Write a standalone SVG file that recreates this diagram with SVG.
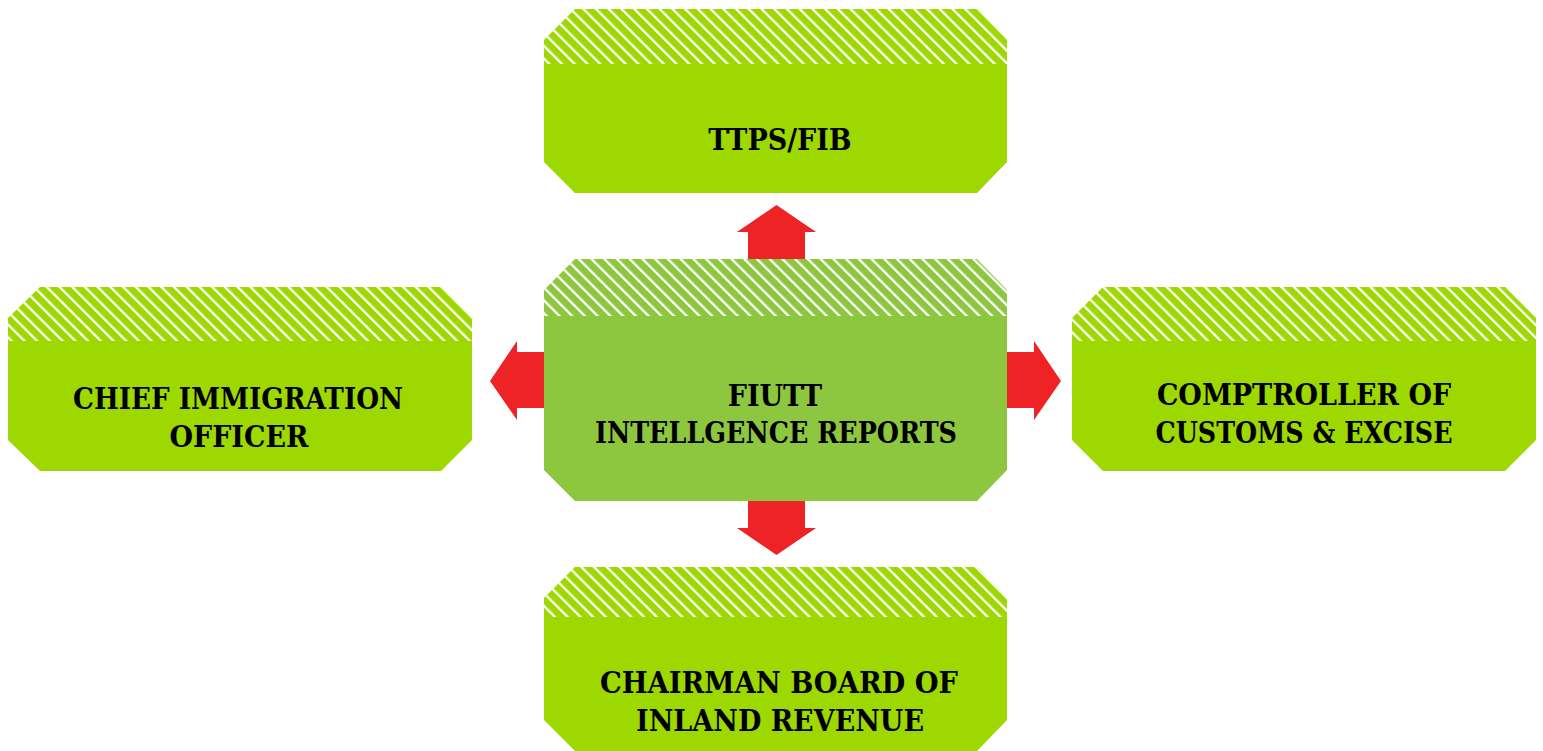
<svg xmlns="http://www.w3.org/2000/svg" width="1543" height="751" viewBox="0 0 1543 751">
<style>
.box{fill:#9dd800}
.center{fill:#8dc63f}
.hatch{fill:url(#hatch)}
.arrow{fill:#ee2326}
text{font-family:"DejaVu Serif Condensed","DejaVu Serif",serif;font-weight:bold;font-stretch:condensed;font-size:30px;fill:#000;text-anchor:middle}
</style>
<defs>
<pattern id="hatch" patternUnits="userSpaceOnUse" width="9" height="9" patternTransform="rotate(-45)">
<rect x="0" y="0" width="2.3" height="9" fill="#ffffff"/>
</pattern>
</defs>
<g id="connectors">
<polygon class="arrow" points="748,259 748,232 737,232 776.5,205 816,232 805,232 805,259"/>
<polygon class="arrow" points="748,501 748,528 737,528 776.5,555 816,528 805,528 805,501"/>
<polygon class="arrow" points="544,352 517,352 517,341 490,381 517,420 517,408 544,408"/>
<polygon class="arrow" points="1007,352 1034,352 1034,341 1061,381 1034,420 1034,408 1007,408"/>
</g>
<g id="ttps">
<polygon class="box" points="575,9 977,9 1007,40 1007,162 977,193 575,193 544,162 544,40"/>
<polygon class="hatch" points="575,9 977,9 1007,40 1007,64 544,64 544,40"/>
<text x="780" y="150">TTPS/FIB</text>
</g>
<g id="fiutt">
<polygon class="center" points="575,259 977,259 1007,290 1007,470 977,501 575,501 544,470 544,290"/>
<polygon class="hatch" points="575,259 977,259 1007,290 1007,316 544,316 544,290"/>
<text x="775" y="406">FIUTT</text>
<text x="776" y="443" textLength="362" lengthAdjust="spacingAndGlyphs">INTELLGENCE REPORTS</text>
</g>
<g id="immigration">
<polygon class="box" points="40,287 441,287 472,318 472,440 441,471 40,471 8,440 8,318"/>
<polygon class="hatch" points="40,287 441,287 472,318 472,341 8,341 8,318"/>
<text x="238" y="409" textLength="330" lengthAdjust="spacingAndGlyphs">CHIEF IMMIGRATION</text>
<text x="239" y="447">OFFICER</text>
</g>
<g id="customs">
<polygon class="box" points="1103,287 1505,287 1536,318 1536,440 1505,471 1103,471 1072,440 1072,318"/>
<polygon class="hatch" points="1103,287 1505,287 1536,318 1536,341 1072,341 1072,318"/>
<text x="1304" y="405">COMPTROLLER OF</text>
<text x="1304" y="443" textLength="297" lengthAdjust="spacingAndGlyphs">CUSTOMS &amp; EXCISE</text>
</g>
<g id="revenue">
<polygon class="box" points="575,567 977,567 1007,598 1007,720 977,751 575,751 544,720 544,598"/>
<polygon class="hatch" points="575,567 977,567 1007,598 1007,617 544,617 544,598"/>
<text x="779" y="693" textLength="358" lengthAdjust="spacingAndGlyphs">CHAIRMAN BOARD OF</text>
<text x="780" y="731">INLAND REVENUE</text>
</g>
</svg>
